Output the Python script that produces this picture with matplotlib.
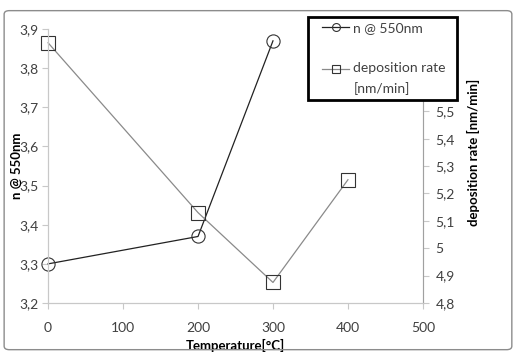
import matplotlib.pyplot as plt
from matplotlib.patches import FancyBboxPatch
from matplotlib.ticker import FuncFormatter
from matplotlib.legend_handler import HandlerLine2D

plt.rcParams['font.family'] = ['Lato', 'DejaVu Sans']

temp_n = [0, 200, 300]
n_550 = [3.30, 3.37, 3.87]

temp_dep = [0, 200, 300, 400]
dep_rate = [5.75, 5.13, 4.875, 5.25]

xticks = [0, 100, 200, 300, 400, 500]
n_ticks = [3.2, 3.3, 3.4, 3.5, 3.6, 3.7, 3.8, 3.9]
# 5,6 - 5,8 sit under the legend box
dep_ticks = [4.8, 4.9, 5.0, 5.1, 5.2, 5.3, 5.4, 5.5]


def comma(v, pos):
    s = ('%.1f' % v).rstrip('0').rstrip('.')
    return s.replace('.', ',')


class FirstLineHandler(HandlerLine2D):
    # put the handle next to the first text line, as Excel does
    def __init__(self, shift=0, **kw):
        super().__init__(**kw)
        self.shift = shift

    def create_artists(self, legend, orig_handle, xdescent, ydescent,
                       width, height, fontsize, trans):
        return super().create_artists(legend, orig_handle, xdescent,
                                      ydescent - self.shift * fontsize,
                                      width, height, fontsize, trans)


fig = plt.figure(figsize=(5.17, 3.55), dpi=100)
fig.patches.append(FancyBboxPatch((0.008, 0.015), 0.982, 0.955,
                                  boxstyle='round,pad=0,rounding_size=0.01',
                                  transform=fig.transFigure, fill=False,
                                  edgecolor='#8c8c8c', linewidth=1.0))

ax = fig.add_axes([0.093, 0.1465, 0.725, 0.7715])
ax2 = ax.twinx()

ln1, = ax.plot(temp_n, n_550, color='#222222', lw=0.9, marker='o', ms=9.5,
               mfc='none', mec='#333333', mew=0.8, label='n @ 550nm')
ln2, = ax2.plot(temp_dep, dep_rate, color='#8a8a8a', lw=0.9, marker='s', ms=9.5,
                mfc='none', mec='#333333', mew=0.8, label='deposition rate\n[nm/min]')

ax.set_xlim(0, 500)
ax.set_ylim(3.2, 3.9)
ax2.set_ylim(4.8, 5.8)
ax.set_xticks(xticks)
ax.set_yticks(n_ticks)
ax2.set_yticks(dep_ticks)
ax.yaxis.set_major_formatter(FuncFormatter(comma))
ax2.yaxis.set_major_formatter(FuncFormatter(comma))

for a in (ax, ax2):
    for s in a.spines.values():
        s.set_color('#c8c8c8')
    a.spines['top'].set_visible(False)
    a.tick_params(colors='#c8c8c8', labelcolor='#404040', labelsize=10,
                  length=4, width=0.8)
ax2.spines['right'].set_color('#a0a0a0')
ax.tick_params(axis='x', pad=10)
ax.tick_params(axis='y', pad=3)
ax2.tick_params(axis='y', pad=5)
for ln in (ln1, ln2):
    ln.set_clip_on(False)

ax.set_xlabel('Temperature[°C]', fontsize=9.5, fontweight='bold')
ax.xaxis.set_label_coords(0.5, -0.13)
ax.set_ylabel('n @ 550nm', fontsize=9.5, fontweight='bold')
ax.yaxis.set_label_coords(-0.067, 0.5)
ax2.set_ylabel('deposition rate [nm/min]', fontsize=9.5, fontweight='bold')
ax2.yaxis.set_label_coords(1.117, 0.55)

leg = fig.legend(handles=[ln1, ln2], loc='upper left', mode='expand',
                 bbox_to_anchor=(0.596, 0.721, 0.288, 0.231), frameon=True,
                 fancybox=False, fontsize=10, labelspacing=2.0,
                 handlelength=2.6, handletextpad=0.3, borderpad=0.35,
                 markerscale=0.6, borderaxespad=0,
                 handler_map={ln1: FirstLineHandler(0, xpad=0.65),
                              ln2: FirstLineHandler(1.4, xpad=0.65)})
leg.get_frame().set_edgecolor('black')
leg.get_frame().set_linewidth(2)
leg.get_frame().set_alpha(1)
for t in leg.get_texts():
    t.set_color('#404040')
    t.set_linespacing(1.75)
leg.set_zorder(10)

fig.savefig('out.png', dpi=100)
